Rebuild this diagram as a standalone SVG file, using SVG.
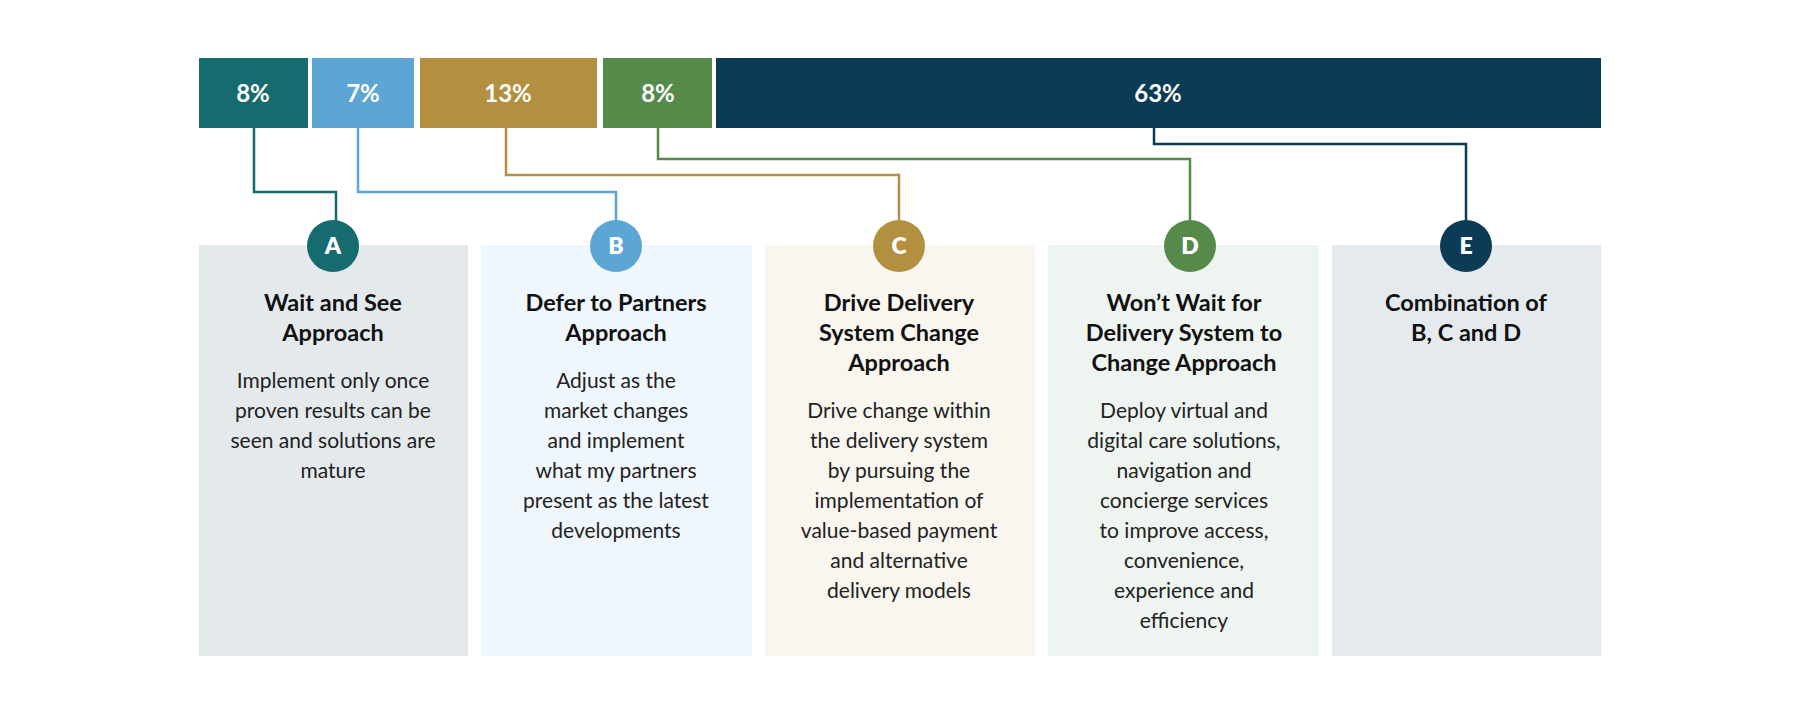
<svg xmlns="http://www.w3.org/2000/svg" width="1800" height="718" viewBox="0 0 1800 718">
<style>
.pct{font-family:Lato,"Open Sans",sans-serif;font-weight:700;font-size:24px;fill:#fff;text-anchor:middle}
.let{font-family:Lato,"Open Sans",sans-serif;font-weight:800;font-size:23px;fill:#fff;text-anchor:middle}
.t{font-family:Lato,"Open Sans",sans-serif;font-weight:700;font-size:23.5px;fill:#111;text-anchor:middle}
.b{font-family:Lato,"Open Sans",sans-serif;font-size:21px;fill:#222;text-anchor:middle}
.c{fill:none;stroke-width:2.5}
</style>
<rect width="1800" height="718" fill="#fff"/>
<g id="bar">
<rect x="199" y="58" width="109" height="70" fill="#156b6e"/><text class="pct" x="253" y="102">8%</text>
<rect x="312" y="58" width="102" height="70" fill="#5ba6d4"/><text class="pct" x="363" y="102">7%</text>
<rect x="420" y="58" width="177" height="70" fill="#b39040"/><text class="pct" x="508" y="102">13%</text>
<rect x="603" y="58" width="109" height="70" fill="#568a4b"/><text class="pct" x="658" y="102">8%</text>
<rect x="716" y="58" width="885" height="70" fill="#0c3b56"/><text class="pct" x="1158" y="102">63%</text>
</g>
<g id="connectors">
<path class="c" stroke="#156b6e" d="M254 128V192H336V222"/>
<path class="c" stroke="#5ba6d4" d="M358 128V192H616V222"/>
<path class="c" stroke="#b39040" d="M506 128V175H899V222"/>
<path class="c" stroke="#568a4b" d="M658 128V159H1190V222"/>
<path class="c" stroke="#0c3b56" d="M1154 128V144H1466V222"/>
</g>
<g id="nodeA"><rect x="199" y="245" width="269" height="411" fill="#e4e9ec"/><circle cx="333" cy="246" r="26" fill="#156b6e"/><text class="let" x="333" y="254">A</text>
<text class="t" x="333" y="311">Wait and See</text><text class="t" x="333" y="341">Approach</text>
<text class="b" x="333" y="388">Implement only once</text><text class="b" x="333" y="418">proven results can be</text><text class="b" x="333" y="448">seen and solutions are</text><text class="b" x="333" y="478">mature</text></g>
<g id="nodeB"><rect x="481" y="245" width="271" height="411" fill="#eff6fc"/><circle cx="616" cy="246" r="26" fill="#5ba6d4"/><text class="let" x="616" y="254">B</text>
<text class="t" x="616" y="311">Defer to Partners</text><text class="t" x="616" y="341">Approach</text>
<text class="b" x="616" y="388">Adjust as the</text><text class="b" x="616" y="418">market changes</text><text class="b" x="616" y="448">and implement</text><text class="b" x="616" y="478">what my partners</text><text class="b" x="616" y="508">present as the latest</text><text class="b" x="616" y="538">developments</text></g>
<g id="nodeC"><rect x="765" y="245" width="270" height="411" fill="#f8f6ef"/><circle cx="899" cy="246" r="26" fill="#b39040"/><text class="let" x="899" y="254">C</text>
<text class="t" x="899" y="311">Drive Delivery</text><text class="t" x="899" y="341">System Change</text><text class="t" x="899" y="371">Approach</text>
<text class="b" x="899" y="418">Drive change within</text><text class="b" x="899" y="448">the delivery system</text><text class="b" x="899" y="478">by pursuing the</text><text class="b" x="899" y="508">implementation of</text><text class="b" x="899" y="538">value-based payment</text><text class="b" x="899" y="568">and alternative</text><text class="b" x="899" y="598">delivery models</text></g>
<g id="nodeD"><rect x="1048" y="245" width="271" height="411" fill="#eef4ef"/><circle cx="1190" cy="246" r="26" fill="#568a4b"/><text class="let" x="1190" y="254">D</text>
<text class="t" x="1184" y="311">Won’t Wait for</text><text class="t" x="1184" y="341">Delivery System to</text><text class="t" x="1184" y="371">Change Approach</text>
<text class="b" x="1184" y="418">Deploy virtual and</text><text class="b" x="1184" y="448">digital care solutions,</text><text class="b" x="1184" y="478">navigation and</text><text class="b" x="1184" y="508">concierge services</text><text class="b" x="1184" y="538">to improve access,</text><text class="b" x="1184" y="568">convenience,</text><text class="b" x="1184" y="598">experience and</text><text class="b" x="1184" y="628">efficiency</text></g>
<g id="nodeE"><rect x="1332" y="245" width="269" height="411" fill="#e5eaee"/><circle cx="1466" cy="246" r="26" fill="#0c3b56"/><text class="let" x="1466" y="254">E</text>
<text class="t" x="1466" y="311">Combination of</text><text class="t" x="1466" y="341">B, C and D</text></g>
</svg>
